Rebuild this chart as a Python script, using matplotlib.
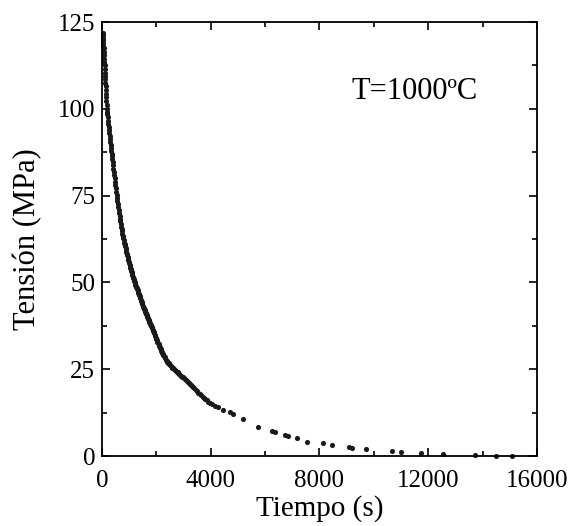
import matplotlib
matplotlib.use('Agg')
import matplotlib.pyplot as plt
from matplotlib.ticker import MultipleLocator

tiempo = [
    30, 35, 40, 45, 50, 55, 60, 67, 73, 80, 87, 93, 100, 107, 113, 120, 127,
    133, 140, 147, 154, 161, 168, 175, 185, 195, 205, 220, 232, 245, 257, 270,
    282, 295, 307, 320, 332, 345, 357, 370, 382, 395, 407, 420, 434, 449, 463,
    478, 493, 509, 524, 540, 555, 570, 585, 600, 615, 630, 645, 660, 676, 692,
    708, 724, 739, 754, 770, 785, 801, 818, 834, 850, 865, 880, 895, 910, 925,
    939, 954, 968, 984, 999, 1015, 1030, 1045, 1060, 1075, 1090, 1105, 1121,
    1136, 1152, 1167, 1183, 1198, 1214, 1230, 1247, 1263, 1280, 1295, 1310,
    1325, 1340, 1355, 1369, 1384, 1398, 1413, 1429, 1444, 1460, 1475, 1490,
    1505, 1520, 1535, 1550, 1565, 1580, 1596, 1612, 1627, 1643, 1657, 1672,
    1686, 1700, 1715, 1730, 1745, 1760, 1777, 1794, 1810, 1827, 1845, 1864,
    1882, 1900, 1920, 1940, 1960, 1980, 2000, 2020, 2040, 2060, 2080, 2100,
    2120, 2140, 2160, 2180, 2200, 2220, 2240, 2260, 2280, 2300, 2325, 2350,
    2375, 2400, 2425, 2450, 2475, 2500, 2530, 2560, 2590, 2623, 2655, 2686,
    2718, 2750, 2780, 2810, 2840, 2870, 2900, 2935, 2965, 3000, 3040, 3075,
    3115, 3155, 3195, 3237, 3280, 3320, 3360, 3400, 3450, 3500, 3550, 3600,
    3650, 3700, 3760, 3800, 3850, 3910, 3972,
    4050, 4150, 4279, 4460, 4708, 4830, 5197, 5750, 6240, 6363, 6731, 6853,
    7160, 7528, 8130, 8472, 9098, 9208, 9698, 10655, 10997, 11733, 12554,
    13719, 14479, 15067,
]
tension = [
    122.0, 121.2, 120.5, 119.7, 119.0, 118.2, 117.5, 116.4, 115.5, 114.5,
    113.4, 112.5, 111.5, 110.4, 109.5, 108.5, 107.4, 106.5, 105.5, 104.4,
    103.3, 102.2, 101.1, 100.0, 99.2, 98.4, 97.6, 96.5, 95.7, 94.7, 93.9,
    93.0, 92.2, 91.3, 90.4, 89.5, 88.7, 87.9, 87.1, 86.3, 85.5, 84.6, 83.7,
    82.8, 81.9, 80.9, 80.0, 79.0, 78.1, 77.1, 76.2, 75.2, 74.4, 73.5, 72.6,
    71.8, 70.9, 70.1, 69.2, 68.4, 67.6, 66.9, 66.1, 65.3, 64.7, 64.0, 63.4,
    62.7, 62.1, 61.5, 61.0, 60.4, 59.9, 59.3, 58.8, 58.3, 57.8, 57.3, 56.9,
    56.4, 55.9, 55.5, 55.0, 54.6, 54.2, 53.8, 53.3, 52.9, 52.5, 52.1, 51.6,
    51.2, 50.9, 50.5, 50.2, 49.8, 49.4, 49.1, 48.7, 48.3, 48.0, 47.7, 47.3,
    47.0, 46.7, 46.4, 46.0, 45.7, 45.4, 45.0, 44.7, 44.3, 44.0, 43.7, 43.3,
    43.0, 42.7, 42.4, 42.1, 41.8, 41.5, 41.2, 40.8, 40.5, 40.2, 40.0, 39.7,
    39.4, 39.1, 38.9, 38.6, 38.3, 38.0, 37.7, 37.4, 37.1, 36.8, 36.4, 36.1,
    35.7, 35.3, 34.9, 34.5, 34.1, 33.7, 33.3, 32.9, 32.6, 32.2, 31.8, 31.4,
    31.1, 30.7, 30.4, 30.0, 29.7, 29.4, 29.0, 28.7, 28.4, 28.1, 27.8, 27.5,
    27.2, 26.9, 26.7, 26.4, 26.2, 26.0, 25.7, 25.5, 25.3, 25.0, 24.8, 24.5,
    24.3, 24.1, 23.9, 23.6, 23.4, 23.2, 22.9, 22.7, 22.5, 22.2, 22.0, 21.7,
    21.4, 21.1, 20.8, 20.5, 20.1, 19.8, 19.5, 19.1, 18.7, 18.3, 17.9, 17.5,
    17.1, 16.6, 16.3, 16.0, 15.6, 15.2,
    14.9, 14.5, 14.0, 13.3, 12.6, 12.2, 10.8, 8.4, 7.3, 7.0, 6.2, 5.8,
    5.1, 4.1, 3.7, 3.1, 2.7, 2.4, 1.9, 1.5, 1.2, 0.9, 0.5,
    0.2, 0.05, 0.05,
]

plt.rcParams['font.family'] = ['Liberation Serif', 'DejaVu Serif']

fig = plt.figure(figsize=(5.73, 5.26), dpi=100)
ax = fig.add_axes([0.178, 0.133, 0.759, 0.825])

ax.plot(tiempo, tension, 'o', color='#1a1a1a', markersize=3.7,
        markeredgewidth=0, clip_on=False)

ax.set_xlim(0, 16000)
ax.set_ylim(0, 125)
ax.xaxis.set_major_locator(MultipleLocator(4000))
ax.xaxis.set_minor_locator(MultipleLocator(2000))
ax.yaxis.set_major_locator(MultipleLocator(25))
ax.yaxis.set_minor_locator(MultipleLocator(12.5))

ax.tick_params(which='both', direction='in', top=True, right=True,
               width=1.2, labelsize=18)
ax.tick_params(axis='x', which='major', pad=10)
ax.tick_params(axis='y', which='major', pad=5)
ax.tick_params(which='major', length=6)
ax.tick_params(which='minor', length=3.5)
for s in ax.spines.values():
    s.set_linewidth(1.3)

ax.set_xlabel('Tiempo (s)', fontsize=21, labelpad=2)
ax.set_ylabel('Tensión (MPa)', fontsize=22, labelpad=11)
ax.text(0.864, 0.84, 'T=1000ºC', transform=ax.transAxes, fontsize=22,
        ha='right', va='center')

fig.savefig('out.png', dpi=100)
